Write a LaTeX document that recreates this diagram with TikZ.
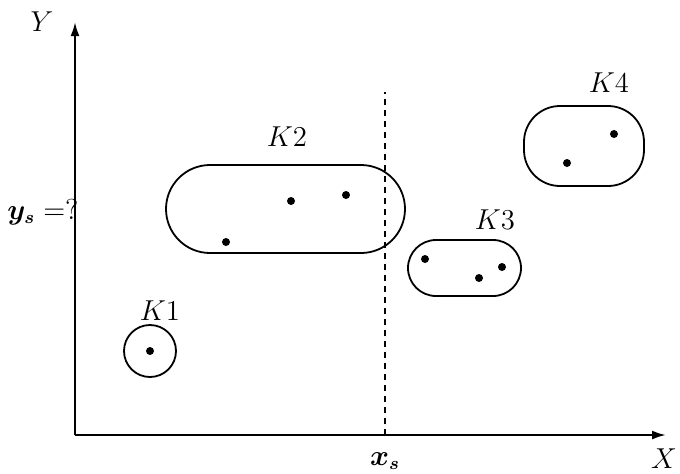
\documentclass[tikz,border=0pt]{standalone}
\usepackage{amsmath}
\usetikzlibrary{arrows.meta}
\begin{document}
\begin{tikzpicture}[x=0.5pt,y=-0.5pt,
  axis/.style={line width=1.1pt,-{Latex[length=7pt,width=4.5pt]}},
  cluster/.style={draw,line width=0.9pt,inner sep=0pt},
  pt/.style={circle,fill,inner sep=0pt,minimum size=4pt},
  lbl/.style={font=\fontsize{13.5}{16}\selectfont,inner sep=1pt}]
\useasboundingbox (0,0) rectangle (680,473);
\coordinate (o) at (75,435);
\coordinate (xe) at (666,435);
\coordinate (ye) at (75,22);
\coordinate (dt) at (385,92);
\coordinate (db) at (385,435);
\draw[axis] (o) -- (xe);
\draw[axis] (o) -- (ye);
\draw[line width=0.9pt,dash pattern=on 3pt off 2.5pt] (db) -- (dt);
\node[lbl] (Y) at (42,22) {$Y$};
\node[lbl] (X) at (664,459) {$X$};
\node[lbl] (xs) at (385,461) {$\boldsymbol{x_s}$};
\node[lbl] (ys) at (43,212) {$\boldsymbol{y_s}=?$};
% K1
\node[cluster,circle,minimum size=26pt] (k1) at (150,351) {};
\node[pt] (p11) at (150,351) {};
\node[lbl] (l1) at (160,311) {$K1$};
% K2
\node[cluster,rounded corners=22pt,minimum width=119.5pt,minimum height=44pt] (k2) at (285.5,209) {};
\node[pt] (p21) at (226,242) {};
\node[pt] (p22) at (291,201) {};
\node[pt] (p23) at (346,195) {};
\node[lbl] (l2) at (287,137) {$K2$};
% K3
\node[cluster,rounded corners=14pt,minimum width=56.5pt,minimum height=28pt] (k3) at (464.5,268) {};
\node[pt] (p31) at (425,259) {};
\node[pt] (p32) at (479,278) {};
\node[pt] (p33) at (502,267) {};
\node[lbl] (l3) at (495,220) {$K3$};
% K4
\node[cluster,rounded corners=18pt,minimum width=60pt,minimum height=40pt] (k4) at (584,146) {};
\node[pt] (p41) at (567,163) {};
\node[pt] (p42) at (614,134) {};
\node[lbl] (l4) at (609,83) {$K4$};
\end{tikzpicture}
\end{document}
